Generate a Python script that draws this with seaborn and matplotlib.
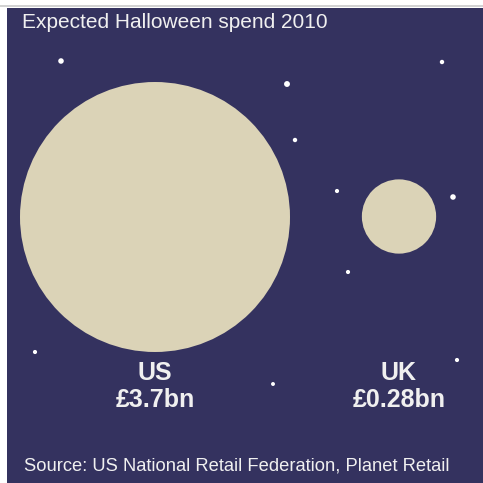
import matplotlib
matplotlib.use("Agg")
import matplotlib.pyplot as plt
import seaborn as sns
import pandas as pd
from matplotlib.patches import Rectangle

# ---- data ----
countries = ["US", "UK"]
spend_bn = [3.7, 0.28]
spend_labels = ["£3.7bn", "£0.28bn"]
circle_x = [155, 399]
circle_y = [217, 216.5]

star_x = [61, 442, 287, 295, 337, 453, 348, 35, 273, 457]
star_y = [61, 62, 84, 140, 191, 197, 272, 352, 384, 360]
star_s = [16, 10, 18, 10, 9, 16, 9, 9, 8, 9]

title = "Expected Halloween spend 2010"
source = "Source: US National Retail Federation, Planet Retail"

NAVY = "#34325f"
MOON = "#dbd3b7"
TEXT = "#f0f0f0"

sns.set_theme(style="white")
plt.rcParams['font.family'] = ['Liberation Sans', 'DejaVu Sans']

W = H = 483
fig = plt.figure(figsize=(4.83, 4.83), dpi=100)
fig.patch.set_facecolor("white")
ax = fig.add_axes([0, 0, 1, 1])
ax.set_xlim(0, W)
ax.set_ylim(H, 0)
ax.axis("off")

# background panel
ax.add_patch(Rectangle((0, 4.5), W, 2, color="#d2d2d2", lw=0, zorder=0))
ax.add_patch(Rectangle((7, 8), W - 7, H - 8, color=NAVY, lw=0, zorder=0))

# circles (area proportional to spend)
df = pd.DataFrame({"x": circle_x, "y": circle_y, "spend": spend_bn, "country": countries})
r_us_pt = 135 * 72 / 100
smax = (2 * r_us_pt) ** 2
sns.scatterplot(data=df, x="x", y="y", size="spend", sizes=(0, smax),
                size_norm=(0, max(spend_bn)), color=MOON, linewidth=0,
                legend=False, ax=ax, zorder=2)

# stars
stars = pd.DataFrame({"x": star_x, "y": star_y, "s": star_s})
ax.scatter(stars["x"], stars["y"], s=stars["s"], color="white", linewidth=0, zorder=3)

# labels
for cx, c, lab in zip(circle_x, countries, spend_labels):
    ax.text(cx, 373, c, ha="center", va="center", fontsize=18, fontweight="bold", color=TEXT)
    ax.text(cx, 400, lab, ha="center", va="center", fontsize=18, fontweight="bold", color=TEXT)

ax.text(22, 23, title, ha="left", va="center", fontsize=15, color=TEXT)
ax.text(24, 466, source, ha="left", va="center", fontsize=13.2, color=TEXT)

ax.set_xlabel("")
ax.set_ylabel("")
fig.savefig("out.png", dpi=100, facecolor=fig.get_facecolor())
